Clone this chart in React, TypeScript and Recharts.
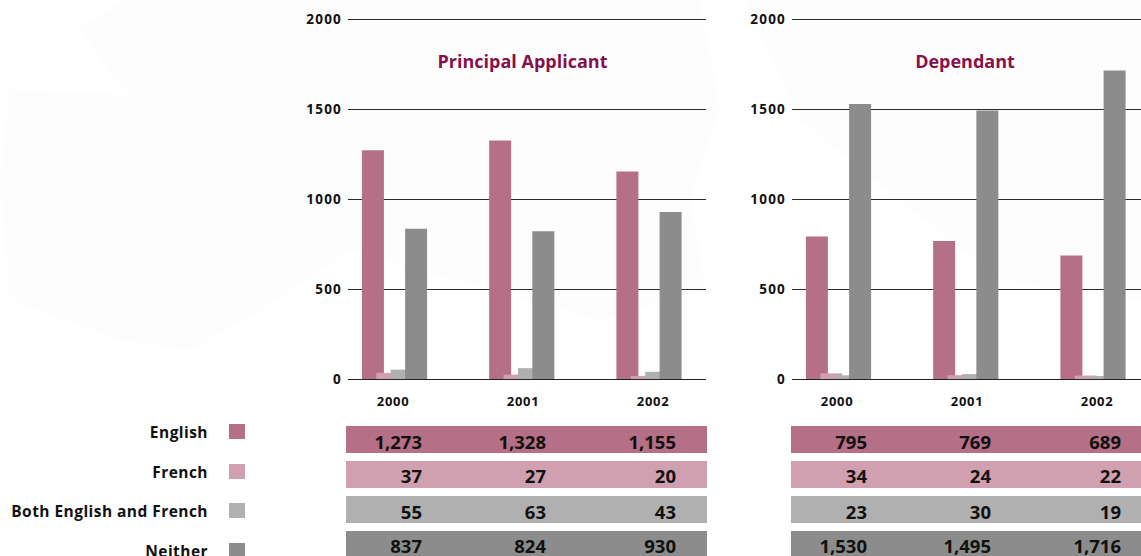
import { Bar, BarChart, CartesianGrid, XAxis, YAxis } from "recharts";

const years = ["2000", "2001", "2002"];
const yTicks = [0, 500, 1000, 1500, 2000];

const languages = ["English", "French", "Both English and French", "Neither"];
const colors = ["#b56f87", "#d0a0b0", "#b0b0b0", "#8c8c8c"];

const principalEnglish = [1273, 1328, 1155];
const principalFrench = [37, 27, 20];
const principalBoth = [55, 63, 43];
const principalNeither = [837, 824, 930];

const dependantEnglish = [795, 769, 689];
const dependantFrench = [34, 24, 22];
const dependantBoth = [23, 30, 19];
const dependantNeither = [1530, 1495, 1716];

const font = "'Open Sans', sans-serif";
const legendRowTops = [424, 464, 503, 543];
const tableRowTops = [426, 461, 496, 531];
const tableTextTops = [7, 6, 6.5, 5.5];
const columnRights = [76, 200, 330];
const tickNudge = [-1.5, 1.25, 4];

// very faint map shapes behind the charts
const backdropShapes = [
  "80,28 125,0 700,0 720,110 690,200 706,290 600,320 350,250 260,310 190,350 120,340 10,300 0,180 10,90 130,95 100,60",
  "745,0 1141,0 1141,300 1000,280 900,200 800,120",
];

const toRows = (series: number[][]) =>
  years.map((year, i) => ({
    year,
    english: series[0][i],
    french: series[1][i],
    both: series[2][i],
    neither: series[3][i],
  }));

const YearTick = ({ x, y, payload, index }: any) => (
  <text
    x={x + tickNudge[index]}
    y={y}
    dy={16}
    textAnchor="middle"
    fontFamily={font}
    fontWeight={700}
    fontSize={13}
    letterSpacing={0.7}
    fill="#111"
  >
    {payload.value}
  </text>
);

type PanelProps = {
  title: string;
  series: number[][];
  plotLeft: number;
  plotWidth: number;
  tableLeft: number;
  tableWidth: number;
  titleCenter: number;
};

const Panel = ({ title, series, plotLeft, plotWidth, tableLeft, tableWidth, titleCenter }: PanelProps) => {
  const keys = ["english", "french", "both", "neither"];
  return (
    <>
      <div style={{ position: "absolute", left: plotLeft - 60, top: 0 }}>
        <BarChart
          width={plotWidth + 60}
          height={420}
          data={toRows(series)}
          barSize={22}
          barGap={-7.6}
          barCategoryGap={0}
          margin={{ top: 19.5, right: 0, bottom: 0, left: 0 }}
        >
          <CartesianGrid vertical={false} stroke="#2a2a2a" strokeWidth={1} />
          <XAxis
            dataKey="year"
            tick={<YearTick />}
            tickLine={false}
            axisLine={{ stroke: "#222", strokeWidth: 1 }}
            height={40.5}
            tickMargin={4}
            interval={0}
            padding={{ left: -17.1, right: -6.65 }}
          />
          <YAxis
            width={60}
            domain={[0, 2000]}
            ticks={yTicks}
            tickLine={false}
            axisLine={false}
            tickMargin={0}
            tick={{ fontFamily: font, fontWeight: 700, fontSize: 13.5, letterSpacing: 1.2, fill: "#111" }}
          />
          {keys.map((key, i) => (
            <Bar key={key} dataKey={key} fill={colors[i]} isAnimationActive={false} />
          ))}
        </BarChart>
      </div>
      <div
        style={{
          position: "absolute",
          left: titleCenter - 120,
          width: 240,
          top: 49,
          textAlign: "center",
          fontFamily: font,
          fontWeight: 700,
          fontSize: 18,
          lineHeight: "24px",
          color: "#85114c",
        }}
      >
        {title}
      </div>
      {series.map((values, r) => (
        <div
          key={r}
          style={{
            position: "absolute",
            left: tableLeft,
            top: tableRowTops[r],
            width: tableWidth,
            height: 27,
            background: colors[r],
          }}
        >
          {values.map((value, c) => (
            <span
              key={c}
              style={{
                position: "absolute",
                right: tableWidth - columnRights[c],
                top: tableTextTops[r],
                fontFamily: font,
                fontWeight: 700,
                fontSize: 18.5,
                lineHeight: "18px",
                color: "#111",
              }}
            >
              {value.toLocaleString("en-US")}
            </span>
          ))}
        </div>
      ))}
    </>
  );
};

export default function App() {
  return (
    <div
      style={{
        position: "absolute",
        left: 0,
        top: 0,
        width: 1141,
        height: 556,
        overflow: "hidden",
        background: "#fff",
      }}
    >
      <svg width={1141} height={556} style={{ position: "absolute", left: 0, top: 0 }}>
        {backdropShapes.map((points) => (
          <polygon key={points} points={points} fill="#fefdfd" />
        ))}
      </svg>
      <Panel
        title="Principal Applicant"
        series={[principalEnglish, principalFrench, principalBoth, principalNeither]}
        plotLeft={348}
        plotWidth={358}
        tableLeft={346}
        tableWidth={361}
        titleCenter={522.5}
      />
      <Panel
        title="Dependant"
        series={[dependantEnglish, dependantFrench, dependantBoth, dependantNeither]}
        plotLeft={792}
        plotWidth={358}
        tableLeft={791}
        tableWidth={361}
        titleCenter={965}
      />
      {languages.map((name, i) => (
        <div key={name}>
          <div
            style={{
              position: "absolute",
              right: 1141 - 208,
              top: legendRowTops[i] + 1,
              fontFamily: font,
              fontWeight: 700,
              fontSize: 15.5,
              letterSpacing: 0.45,
              lineHeight: "14px",
              whiteSpace: "nowrap",
              color: "#111",
            }}
          >
            {name}
          </div>
          <div
            style={{
              position: "absolute",
              left: 229,
              top: legendRowTops[i],
              width: 16,
              height: 15,
              background: colors[i],
            }}
          />
        </div>
      ))}
    </div>
  );
}
